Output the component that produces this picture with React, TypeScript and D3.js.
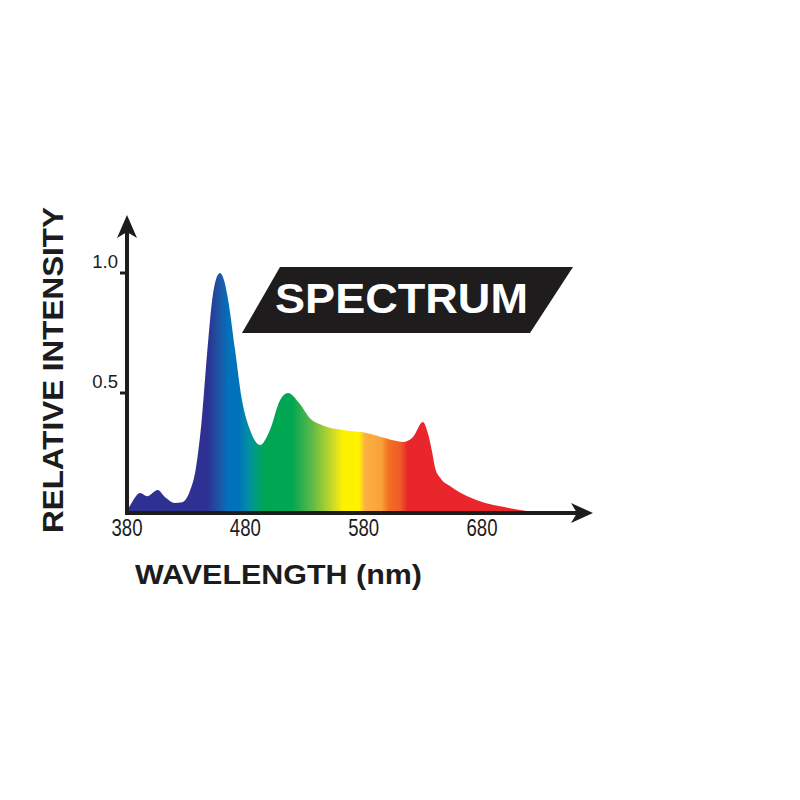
import React from "react";
import * as d3 from "d3";

const wavelengths = [380, 382.5, 391, 397, 406, 412, 420.5, 426.5, 433, 438, 443, 447.6, 451.8, 455, 458.6, 462, 465.4, 471.3, 477.2, 484, 492.4, 500.8, 509.3, 516, 526, 534.6, 545.6, 562.5, 579.4, 591.3, 604.8, 613.2, 621.7, 630.1, 634.4, 637.8, 640.3, 644.5, 653, 661.4, 675.8, 703.7, 731.6];
const intensity = [0.01, 0.03, 0.083, 0.07, 0.096, 0.067, 0.042, 0.045, 0.09, 0.18, 0.38, 0.66, 0.88, 0.97, 1.0, 0.97, 0.89, 0.68, 0.47, 0.346, 0.283, 0.346, 0.47, 0.5, 0.455, 0.395, 0.365, 0.346, 0.336, 0.322, 0.303, 0.296, 0.317, 0.379, 0.33, 0.255, 0.19, 0.148, 0.112, 0.085, 0.053, 0.02, 0.0];

const xTicks = [380, 480, 580, 680];
const yTicks = [0.5, 1.0];
const yTickLabels = ["0.5", "1.0"];

const gradientStops: [number, string][] = [
  [380, "#2e3192"], [448, "#2e3192"], [458, "#1d55a5"], [466, "#0072bc"], [474, "#0072bc"],
  [484, "#0094a0"], [494, "#00a45e"], [500, "#00a651"], [519, "#00a651"], [536, "#5cb848"],
  [556, "#d7df23"], [563, "#fff200"], [576, "#fff200"], [581, "#fbb040"], [595, "#f9a23a"],
  [601, "#f37021"], [611, "#f05a28"], [617, "#e8262b"], [740, "#e8262b"],
];

const title = "SPECTRUM";
const xTitle = "WAVELENGTH (nm)";
const yTitle = "RELATIVE INTENSITY";

const FONT = "'Liberation Sans', Arial, Helvetica, sans-serif";
const INK = "#1c1c1c";

export default function App() {
  const x = d3.scaleLinear().domain([380, 680]).range([127, 482]);
  const y = d3.scaleLinear().domain([0, 1]).range([513, 273]);
  const data = wavelengths.map((w, i) => ({ w, v: intensity[i] }));
  const area = d3
    .area<{ w: number; v: number }>()
    .x((d) => x(d.w))
    .y0(y(0))
    .y1((d) => y(d.v))
    .curve(d3.curveMonotoneX);

  const x0 = x(380);
  const yAxisY = y(0);

  return (
    <svg
      width={800}
      height={800}
      style={{ position: "absolute", left: 0, top: 0, background: "#fff" }}
    >
      <defs>
        <linearGradient id="spec" gradientUnits="userSpaceOnUse" x1={x(380)} x2={x(740)} y1={0} y2={0}>
          {gradientStops.map(([w, c], i) => (
            <stop key={i} offset={(w - 380) / (740 - 380)} stopColor={c} />
          ))}
        </linearGradient>
      </defs>

      <path d={area(data) || ""} fill="url(#spec)" />

      {/* axes */}
      <line x1={x0} x2={x0} y1={yAxisY + 2} y2={232} stroke={INK} strokeWidth={4} />
      <path d={`M${x0},215 L${x0 + 10},238 L${x0},232 L${x0 - 10},238 Z`} fill={INK} />
      <line x1={x0 - 2} x2={578} y1={yAxisY} y2={yAxisY} stroke={INK} strokeWidth={4} />
      <path d={`M593,${yAxisY} L571,${yAxisY - 10} L577,${yAxisY} L571,${yAxisY + 10} Z`} fill={INK} />

      {yTicks.map((t, i) => (
        <g key={t}>
          <line x1={x0 - 7} x2={x0} y1={y(t)} y2={y(t)} stroke={INK} strokeWidth={3} />
          <text x={118} y={y(t) - 5} textAnchor="end" fontFamily={FONT} fontSize={18.5} fill={INK}>
            {yTickLabels[i]}
          </text>
        </g>
      ))}

      {xTicks.map((t) => (
        <text
          key={t}
          x={x(t)}
          y={536}
          textAnchor="middle"
          fontFamily={FONT}
          fontSize={23}
          fill={INK}
          textLength={31}
          lengthAdjust="spacingAndGlyphs"
        >
          {t}
        </text>
      ))}

      <text
        x={278.5}
        y={584}
        textAnchor="middle"
        fontFamily={FONT}
        fontWeight="bold"
        fontSize={28}
        fill={INK}
        textLength={287}
        lengthAdjust="spacingAndGlyphs"
      >
        {xTitle}
      </text>

      <text
        transform="translate(63,370) rotate(-90)"
        textAnchor="middle"
        fontFamily={FONT}
        fontWeight="bold"
        fontSize={29}
        fill={INK}
        textLength={326}
        lengthAdjust="spacingAndGlyphs"
      >
        {yTitle}
      </text>

      {/* banner */}
      <polygon points="280,267 573,267 530,333 242,333" fill="#1e1c1d" />
      <text
        x={401.5}
        y={313}
        textAnchor="middle"
        fontFamily={FONT}
        fontWeight="bold"
        fontSize={42}
        fill="#fff"
        textLength={253}
        lengthAdjust="spacingAndGlyphs"
      >
        {title}
      </text>
    </svg>
  );
}
